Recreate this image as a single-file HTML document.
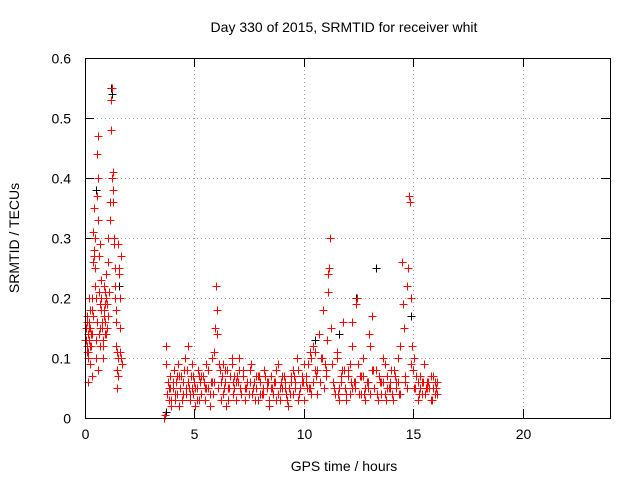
<!DOCTYPE html>
<html><head><meta charset="utf-8">
<style>
body{margin:0;background:#fff;}
svg{display:block;font-family:"Liberation Sans",sans-serif;}
</style></head>
<body>
<svg id="chart" width="640" height="480" viewBox="0 0 640 480">
<rect width="640" height="480" fill="#fff"/>
<text x="344" y="32" font-size="14" text-anchor="middle">Day 330 of 2015, SRMTID for receiver whit</text>
<text x="19" y="238" font-size="14" text-anchor="middle" transform="rotate(-90 19 238)">SRMTID / TECUs</text>
<text x="344" y="471" font-size="14" text-anchor="middle">GPS time / hours</text>
<g id="grid"></g>
<g id="marks" shape-rendering="crispEdges"></g>
<rect x="85.5" y="58.5" width="525" height="360" fill="none" stroke="#000" stroke-width="1"/>
</svg>
<script>
const xTicks=[0,5,10,15,20];
const yTicks=[0,0.1,0.2,0.3,0.4,0.5,0.6];
const yTickLabels=["0","0.1","0.2","0.3","0.4","0.5","0.6"];
const blackT=[0.5,0.55,0.6,1.2,1.25,1.55,3.7,10.5,12.4,13.3,13.6,14.9,0.3,11.6];
const blackV=[0.38,0.44,0.47,0.55,0.54,0.22,0.01,0.13,0.2,0.25,0.1,0.17,0.2,0.14];
const redT=[0.05,0.08,0.1,0.12,0.15,0.18,0.2,0.22,0.25,0.28,0.3,0.32,0.35,0.38,0.4,0.42,0.45,0.48,0.5,0.52,0.55,0.58,0.6,0.62,0.65,0.68,0.7,0.72,0.75,0.78,0.8,0.82,0.85,0.88,0.9,0.92,0.95,0.98,1.0,1.05,1.1,1.15,1.18,1.2,1.22,1.25,1.28,1.3,1.32,1.35,1.38,1.4,1.42,1.45,1.48,1.5,1.52,1.55,1.58,1.6,1.62,1.65,1.7,0.6,0.3,0.15,0.7,0.45,0.9,1.0,0.55,0.58,0.02,0.1,0.2,0.25,
3.6,3.65,3.7,3.75,3.8,3.85,3.9,3.95,4.0,4.05,4.1,4.15,4.2,4.25,4.3,4.35,4.4,4.45,4.5,4.55,4.6,4.65,4.7,4.75,4.8,4.85,4.9,4.95,5.0,5.05,5.1,5.15,5.2,5.25,5.3,5.4,5.5,5.55,5.6,5.7,5.75,5.8,5.85,5.9,5.95,6.0,6.02,6.05,6.1,6.2,6.25,6.3,6.4,6.45,6.5,6.6,6.7,6.75,6.8,6.9,7.0,7.05,7.1,7.2,7.3,7.4,7.5,7.6,7.7,7.8,7.9,8.0,8.1,8.2,8.3,8.4,8.5,8.6,8.7,8.8,8.9,9.0,9.1,9.2,9.3,9.4,9.5,9.6,9.7,9.8,9.9,10.0,10.1,10.2,10.3,10.4,10.5,10.6,10.7,10.8,10.9,11.0,11.05,11.1,11.15,11.2,11.25,11.3,11.4,11.5,11.6,11.7,11.8,11.9,12.0,12.1,12.2,12.3,12.4,12.45,12.5,12.6,12.7,12.8,12.9,13.0,13.1,13.2,13.3,13.4,13.5,13.6,13.7,13.8,13.9,14.0,14.1,14.2,14.3,14.4,14.5,14.55,14.6,14.7,14.75,14.8,14.85,14.9,14.95,15.0,15.1,15.2,15.3,15.4,15.5,15.6,15.7,15.8,15.9,16.0,16.1,
3.9,4.1,4.3,4.5,4.7,4.9,5.1,5.3,5.5,5.7,5.9,6.15,6.35,6.55,6.75,6.95,7.15,7.35,7.55,7.75,7.95,8.15,8.35,8.55,8.75,8.95,9.15,9.35,9.55,9.75,9.95,10.15,10.35,10.55,10.75,10.95,11.35,11.55,11.75,11.95,12.15,12.35,12.55,12.75,12.95,13.15,13.35,13.55,13.75,13.95,14.15,14.35,14.65,15.05,15.25,15.45,15.65,15.85,16.05,11.1,11.15,12.2,13.05,6.3,10.3];
const redV=[0.15,0.12,0.17,0.1,0.14,0.13,0.16,0.09,0.15,0.12,0.2,0.14,0.17,0.26,0.28,0.35,0.3,0.2,0.13,0.1,0.37,0.4,0.33,0.27,0.21,0.15,0.12,0.18,0.2,0.16,0.13,0.1,0.22,0.17,0.14,0.19,0.24,0.2,0.15,0.3,0.21,0.36,0.48,0.53,0.55,0.4,0.41,0.38,0.3,0.25,0.2,0.16,0.12,0.08,0.05,0.1,0.29,0.24,0.2,0.15,0.11,0.27,0.09,0.08,0.07,0.06,0.29,0.25,0.16,0.19,0.44,0.47,0.13,0.11,0.2,0.18,
0,0.005,0.09,0.04,0.06,0.03,0.07,0.02,0.05,0.08,0.03,0.06,0.04,0.09,0.02,0.05,0.07,0.03,0.06,0.1,0.04,0.08,0.12,0.05,0.03,0.07,0.09,0.04,0.06,0.02,0.05,0.08,0.03,0.06,0.04,0.07,0.03,0.09,0.05,0.02,0.06,0.1,0.04,0.11,0.15,0.22,0.14,0.18,0.05,0.03,0.07,0.04,0.06,0.02,0.08,0.05,0.09,0.04,0.07,0.03,0.06,0.1,0.05,0.08,0.03,0.06,0.04,0.09,0.05,0.07,0.03,0.06,0.04,0.08,0.05,0.02,0.07,0.04,0.06,0.09,0.03,0.05,0.07,0.04,0.02,0.06,0.08,0.05,0.1,0.04,0.07,0.03,0.06,0.09,0.05,0.12,0.08,0.04,0.14,0.1,0.18,0.07,0.13,0.21,0.25,0.3,0.15,0.09,0.05,0.11,0.03,0.07,0.16,0.05,0.08,0.04,0.12,0.06,0.19,0.2,0.09,0.04,0.07,0.03,0.06,0.14,0.17,0.05,0.08,0.03,0.06,0.1,0.04,0.07,0.05,0.08,0.03,0.06,0.1,0.12,0.26,0.19,0.15,0.22,0.25,0.37,0.36,0.2,0.12,0.08,0.05,0.03,0.07,0.04,0.09,0.05,0.06,0.03,0.07,0.04,0.06,
0.05,0.03,0.07,0.04,0.06,0.05,0.03,0.07,0.05,0.04,0.06,0.08,0.05,0.03,0.06,0.07,0.04,0.05,0.06,0.03,0.07,0.04,0.06,0.05,0.03,0.06,0.05,0.04,0.07,0.03,0.06,0.05,0.04,0.07,0.06,0.09,0.06,0.04,0.08,0.03,0.06,0.05,0.07,0.04,0.05,0.08,0.04,0.06,0.03,0.05,0.07,0.04,0.06,0.05,0.04,0.06,0.05,0.03,0.05,0.24,0.25,0.16,0.12,0.09,0.11];
const redT2=[0.03,0.07,0.13,0.17,0.23,0.27,0.33,0.37,0.43,0.47,0.53,0.63,0.67,0.73,0.77,0.83,0.87,0.93,0.97,1.03,1.07,1.13,1.27,1.33,1.37,1.43,1.47,1.53,1.57,1.63,
3.72,3.82,3.92,4.02,4.12,4.22,4.32,4.42,4.52,4.62,4.72,4.82,4.92,5.02,5.12,5.22,5.32,5.42,5.52,5.62,5.72,5.82,6.12,6.22,6.32,6.42,6.52,6.62,6.72,6.82,6.92,7.02,7.12,7.22,7.32,7.42,7.52,7.62,7.72,7.82,7.92,8.02,8.12,8.22,8.32,8.42,8.52,8.62,8.72,8.82,8.92,9.02,9.12,9.22,9.32,9.42,9.52,9.62,9.72,9.82,9.92,10.02,10.12,10.22,10.32,10.42,10.52,10.62,10.72,10.82,10.92,11.02,11.32,11.42,11.52,11.62,11.72,11.82,11.92,12.02,12.12,12.22,12.32,12.52,12.62,12.72,12.82,12.92,13.02,13.12,13.22,13.42,13.52,13.62,13.72,13.82,13.92,14.02,14.12,14.22,14.32,14.42,14.62,14.72,14.92,15.02,15.12,15.22,15.32,15.42,15.52,15.62,15.72,15.82,15.92,16.02,16.08];
const redV2=[0.13,0.16,0.11,0.15,0.12,0.14,0.18,0.31,0.27,0.22,0.16,0.14,0.19,0.23,0.15,0.12,0.18,0.21,0.14,0.17,0.26,0.33,0.36,0.29,0.22,0.18,0.11,0.07,0.25,0.1,0.12,
0.05,0.03,0.06,0.04,0.07,0.05,0.03,0.08,0.05,0.06,0.04,0.07,0.05,0.03,0.07,0.04,0.06,0.05,0.08,0.04,0.06,0.09,0.06,0.04,0.08,0.05,0.07,0.1,0.05,0.06,0.08,0.04,0.07,0.05,0.06,0.08,0.04,0.06,0.05,0.07,0.04,0.05,0.07,0.06,0.03,0.05,0.06,0.08,0.04,0.05,0.07,0.06,0.03,0.05,0.07,0.04,0.06,0.08,0.05,0.06,0.09,0.07,0.05,0.1,0.06,0.11,0.08,0.06,0.1,0.05,0.08,0.06,0.04,0.1,0.05,0.06,0.08,0.04,0.07,0.09,0.05,0.06,0.04,0.07,0.1,0.05,0.06,0.04,0.08,0.05,0.07,0.04,0.06,0.09,0.05,0.06,0.04,0.08,0.05,0.06,0.04,0.07,0.05,0.09,0.1,0.07,0.06,0.05,0.06,0.04,0.06,0.05,0.07,0.05,0.06,0.04,0.05,0.06,0.05];
const X=t=>85.5+t*525/24, Y=v=>418.5-v*600;
const NS="http://www.w3.org/2000/svg";
const grid=document.getElementById('grid'), marks=document.getElementById('marks');
function mk(tag,attrs,parent){const e=document.createElementNS(NS,tag);for(const k in attrs)e.setAttribute(k,attrs[k]);parent.appendChild(e);return e;}
xTicks.forEach(t=>{const x=Math.round(X(t)-0.5)+0.5;
 if(t>0){const g=mk('line',{x1:x,y1:58,x2:x,y2:418,stroke:'#a0a0a0','stroke-dasharray':'1,3'},grid);
 
 }
 mk('line',{x1:x,y1:418,x2:x,y2:409,stroke:'#000'},grid);
 mk('line',{x1:x,y1:58,x2:x,y2:67,stroke:'#000'},grid);
 const l=mk('text',{x:x,y:439,'font-size':14,'text-anchor':'middle'},grid);l.textContent=t;
 
 
});
yTicks.forEach((v,i)=>{const y=Math.round(Y(v)-0.5)+0.5;
 if(v>0&&v<0.6){const g=mk('line',{x1:85,y1:y,x2:610,y2:y,stroke:'#a0a0a0','stroke-dasharray':'1,3'},grid);
 
 }
 mk('line',{x1:85,y1:y,x2:94,y2:y,stroke:'#000'},grid);
 mk('line',{x1:610,y1:y,x2:601,y2:y,stroke:'#000'},grid);
 const l=mk('text',{x:71,y:y+5,'font-size':14,'text-anchor':'end'},grid);l.textContent=yTickLabels[i];
 
 
});
function plus(t,v,color,name){const x=Math.round(X(t)-0.5)+0.5,y=Math.round(Y(v)-0.5)+0.5;
 const p=mk('path',{d:`M${x-4},${y}H${x+4}M${x},${y-4}V${y+4}`,stroke:color,'stroke-width':1,fill:'none'},marks);
 
 
}
blackT.forEach((t,i)=>plus(t,blackV[i],'#000','black-point'));
redT.forEach((t,i)=>plus(t,redV[i],'#ff0000','red-point'));
redT2.forEach((t,i)=>plus(t,redV2[i],'#ff0000','red-point'));
</script>
</body></html>
